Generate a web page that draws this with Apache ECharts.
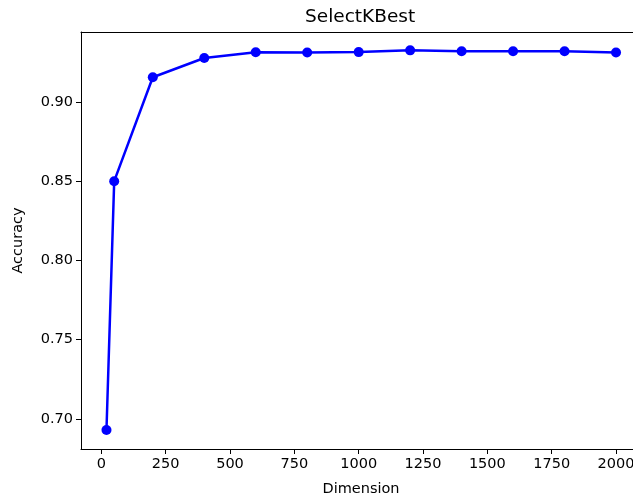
<!DOCTYPE html>
<html>
<head>
<meta charset="utf-8">
<script src="https://cdn.jsdelivr.net/npm/echarts@6/dist/echarts.min.js"></script>
<style>html,body{margin:0;padding:0;background:#fff}#c{width:633px;height:499px}</style>
</head>
<body>
<div id="c"></div>
<script>
const dimensions = [20, 50, 200, 400, 600, 800, 1000, 1200, 1400, 1600, 1800, 2000];
const accuracy = [0.6929, 0.8500, 0.9156, 0.9278, 0.9314, 0.9313, 0.9315, 0.9326, 0.9321, 0.9321, 0.9320, 0.9313];
const xTicks = [0, 250, 500, 750, 1000, 1250, 1500, 1750, 2000];
const yTicks = [0.70, 0.75, 0.80, 0.85, 0.90];

const chart = echarts.init(document.getElementById('c'), null, {renderer: 'canvas'});
const font = 'DejaVu Sans';
const X_MIN = -79, X_MAX = 2066;
chart.setOption({
  animation: false,
  backgroundColor: '#fff',
  title: {
    text: 'SelectKBest',
    left: 300, top: 3,
    textStyle: {fontFamily: font, fontSize: 18.5, fontWeight: 'normal', color: '#000'}
  },
  grid: {
    left: 81, top: 32, right: 0, bottom: 50, show: false,
    outerBoundsMode: 'none', containLabel: false
  },
  xAxis: [{
    type: 'value', min: X_MIN, max: X_MAX,
    name: 'Dimension', nameLocation: 'middle', nameGap: 33,
    nameTextStyle: {fontFamily: font, fontSize: 14.5, color: '#000', padding: [0, 0, 0, 8]},
    splitLine: {show: false},
    axisLine: {show: true, onZero: false, lineStyle: {color: '#000', width: 1}},
    axisTick: {show: true, length: 5, customValues: xTicks, lineStyle: {color: '#000'}},
    axisLabel: {customValues: xTicks, margin: 8, fontFamily: font, fontSize: 14.5, color: '#000',
      formatter: v => String(v), hideOverlap: false}
  }, {
    type: 'value', position: 'top', min: X_MIN, max: X_MAX,
    splitLine: {show: false},
    axisLine: {show: true, onZero: false, lineStyle: {color: '#000', width: 1}},
    axisTick: {show: false}, axisLabel: {show: false}
  }],
  yAxis: {
    type: 'value', min: 0.6809, max: 0.9442,
    name: 'Accuracy', nameLocation: 'middle', nameGap: 55, nameRotate: 90,
    nameTextStyle: {fontFamily: font, fontSize: 14.5, color: '#000'},
    splitLine: {show: false},
    axisLine: {show: true, onZero: false, lineStyle: {color: '#000', width: 1}},
    axisTick: {show: true, length: 5, customValues: yTicks, lineStyle: {color: '#000'}},
    axisLabel: {customValues: yTicks, margin: 8, fontFamily: font, fontSize: 14.5, color: '#000',
      formatter: v => v.toFixed(2)}
  },
  series: [{
    type: 'line',
    data: dimensions.map((d, i) => [d, accuracy[i]]),
    symbol: 'circle', symbolSize: 10,
    lineStyle: {color: '#0000ff', width: 2.5},
    itemStyle: {color: '#0000ff'},
    clip: false
  }]
});
</script>
</body>
</html>
